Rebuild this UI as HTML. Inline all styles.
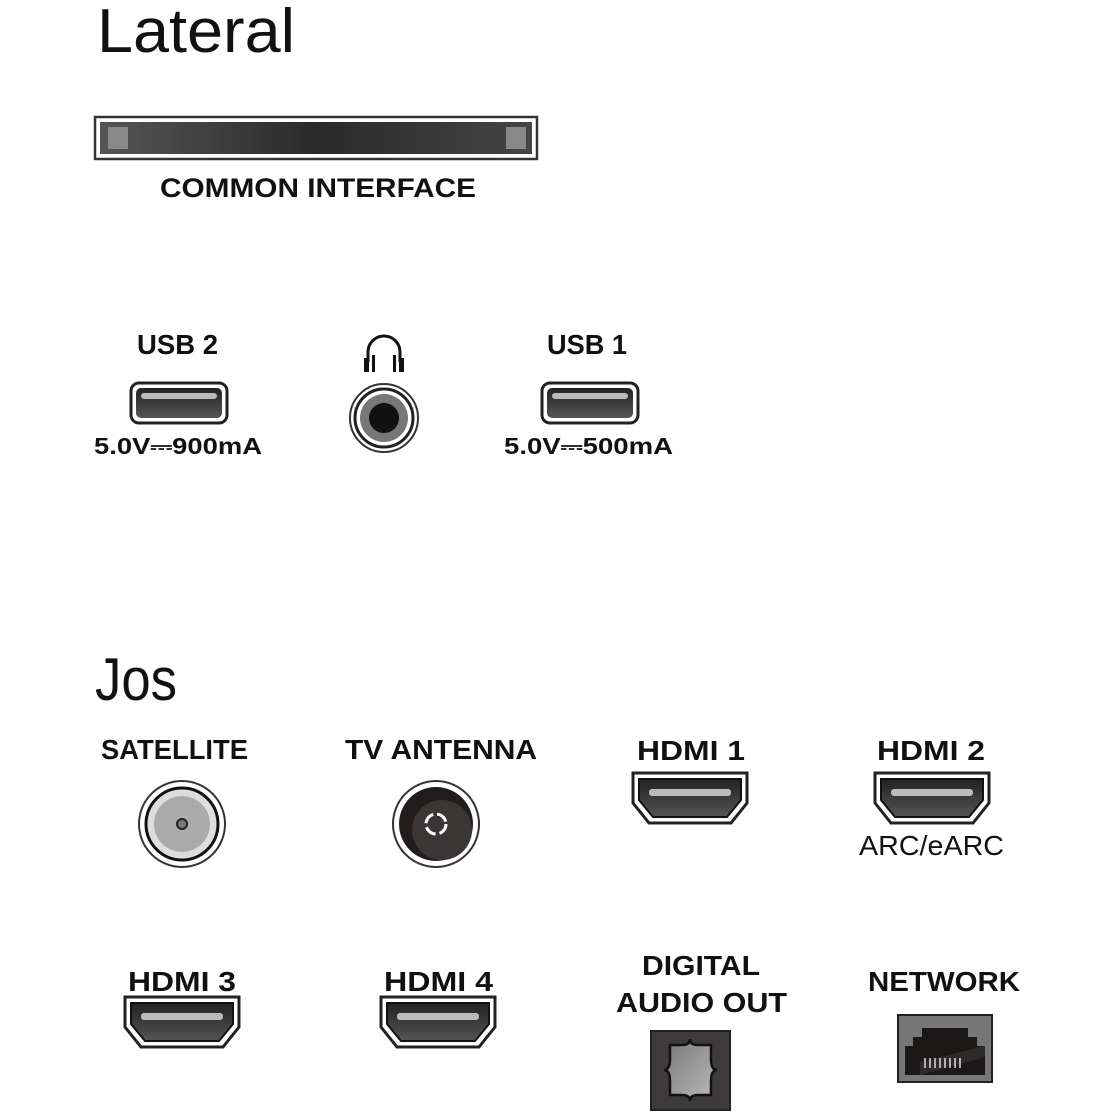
<!DOCTYPE html>
<html><head><meta charset="utf-8"><style>
body{margin:0;background:#fff;}
svg{display:block;}
text{font-family:"Liberation Sans",sans-serif;fill:#111;}
.b{font-weight:bold;}
</style></head><body>
<svg width="1115" height="1115" viewBox="0 0 1115 1115">
<defs>
<linearGradient id="slot" x1="0" y1="0" x2="1" y2="0"><stop offset="0" stop-color="#555"/><stop offset="0.5" stop-color="#2a2a2a"/><stop offset="1" stop-color="#444"/></linearGradient>
<linearGradient id="usb" x1="0" y1="0" x2="0" y2="1"><stop offset="0" stop-color="#222"/><stop offset="1" stop-color="#555"/></linearGradient>
<linearGradient id="opt" x1="0" y1="0" x2="1" y2="1"><stop offset="0" stop-color="#777"/><stop offset="1" stop-color="#bbb"/></linearGradient>
<g id="hdmi">
<path d="M0,0 H114 V30 L98,50 H16 L0,30 Z" fill="#fff" stroke="#222" stroke-width="3"/>
<path d="M6,6 H108 V27 L94,44 H20 L6,27 Z" fill="url(#usb)" stroke="#111" stroke-width="2"/>
<rect x="16" y="16" width="82" height="7" rx="3" fill="#bbb"/>
</g>
<g id="usbp">
<rect x="0" y="0" width="96" height="40" rx="8" fill="#fff" stroke="#222" stroke-width="3"/>
<rect x="5" y="5" width="86" height="30" rx="5" fill="url(#usb)"/>
<rect x="10" y="10" width="76" height="6" rx="3" fill="#bbb"/>
</g>
</defs>

<text x="97" y="52" font-size="62" textLength="198" lengthAdjust="spacingAndGlyphs">Lateral</text>
<rect x="95" y="117" width="442" height="42" fill="#fff" stroke="#333" stroke-width="2.5"/>
<rect x="100" y="122" width="432" height="32" fill="url(#slot)"/>
<rect x="108" y="127" width="20" height="22" fill="#888"/>
<rect x="506" y="127" width="20" height="22" fill="#888"/>
<text x="160" y="197" font-size="27" class="b" textLength="316" lengthAdjust="spacingAndGlyphs">COMMON INTERFACE</text>

<text x="137" y="354" font-size="28" class="b" textLength="81" lengthAdjust="spacingAndGlyphs">USB 2</text>
<use href="#usbp" x="131" y="383"/>
<text x="94" y="454" font-size="23" class="b" textLength="168" lengthAdjust="spacingAndGlyphs">5.0V⎓900mA</text>

<path d="M368,362 V352 A16,16 0 0 1 400,352 V362" fill="none" stroke="#111" stroke-width="3"/>
<rect x="364" y="358" width="5" height="14" fill="#111"/><rect x="372" y="355" width="3" height="17" fill="#111"/>
<rect x="399" y="358" width="5" height="14" fill="#111"/><rect x="393" y="355" width="3" height="17" fill="#111"/>
<circle cx="384" cy="418" r="34" fill="#fff" stroke="#333" stroke-width="2"/>
<circle cx="384" cy="418" r="29" fill="#fff" stroke="#222" stroke-width="3"/>
<circle cx="384" cy="418" r="24" fill="#777"/>
<circle cx="384" cy="418" r="15" fill="#111"/>

<text x="547" y="354" font-size="28" class="b" textLength="80" lengthAdjust="spacingAndGlyphs">USB 1</text>
<use href="#usbp" x="542" y="383"/>
<text x="504" y="454" font-size="23" class="b" textLength="169" lengthAdjust="spacingAndGlyphs">5.0V⎓500mA</text>

<text x="95" y="700" font-size="60" textLength="82" lengthAdjust="spacingAndGlyphs">Jos</text>

<text x="101" y="759" font-size="28" class="b" textLength="147" lengthAdjust="spacingAndGlyphs">SATELLITE</text>
<circle cx="182" cy="824" r="43" fill="#fff" stroke="#333" stroke-width="2"/>
<circle cx="182" cy="824" r="36" fill="#ddd" stroke="#111" stroke-width="3"/>
<circle cx="182" cy="824" r="28" fill="#aaa"/>
<circle cx="182" cy="824" r="5" fill="#777" stroke="#222" stroke-width="2"/>

<text x="345" y="759" font-size="28" class="b" textLength="192" lengthAdjust="spacingAndGlyphs">TV ANTENNA</text>
<circle cx="436" cy="824" r="43" fill="#fff" stroke="#333" stroke-width="2"/>
<circle cx="436" cy="824" r="37" fill="#221c1c"/>
<circle cx="442" cy="830" r="30" fill="#3a3636"/>
<circle cx="436" cy="824" r="10" fill="none" stroke="#fff" stroke-width="3" stroke-dasharray="12 4"/>

<text x="637" y="760" font-size="28" class="b" textLength="108" lengthAdjust="spacingAndGlyphs">HDMI 1</text>
<use href="#hdmi" x="633" y="773"/>
<text x="877" y="760" font-size="28" class="b" textLength="108" lengthAdjust="spacingAndGlyphs">HDMI 2</text>
<use href="#hdmi" x="875" y="773"/>
<text x="859" y="855" font-size="28" fill="#333" textLength="145" lengthAdjust="spacingAndGlyphs">ARC/eARC</text>

<text x="128" y="991" font-size="28" class="b" textLength="108" lengthAdjust="spacingAndGlyphs">HDMI 3</text>
<use href="#hdmi" x="125" y="997"/>
<text x="384" y="991" font-size="28" class="b" textLength="109" lengthAdjust="spacingAndGlyphs">HDMI 4</text>
<use href="#hdmi" x="381" y="997"/>

<text x="642" y="975" font-size="28" class="b" textLength="118" lengthAdjust="spacingAndGlyphs">DIGITAL</text>
<text x="616" y="1012" font-size="28" class="b" textLength="171" lengthAdjust="spacingAndGlyphs">AUDIO OUT</text>
<rect x="651" y="1031" width="79" height="79" fill="#3e3a3a" stroke="#222" stroke-width="2"/>
<path d="M670,1045 H682 Q690,1045 690,1039 Q690,1045 698,1045 H711 V1059 Q711,1070 717,1070 Q711,1070 711,1081 V1095 H698 Q690,1095 690,1101 Q690,1095 682,1095 H670 V1081 Q670,1070 664,1070 Q670,1070 670,1059 Z" fill="url(#opt)" stroke="#111" stroke-width="2.5"/>

<text x="868" y="991" font-size="28" class="b" textLength="152" lengthAdjust="spacingAndGlyphs">NETWORK</text>
<rect x="898" y="1015" width="94" height="67" fill="#777" stroke="#222" stroke-width="2"/>
<path d="M905,1075 V1046 H913 V1037 H922 V1028 H968 V1037 H977 V1046 H985 V1075 Z" fill="#1c1818"/>
<path d="M920,1062 L985,1046 V1057 L920,1075 Z" fill="#2e2a2a"/>
<g stroke="#ddd" stroke-width="1.5">
<line x1="925" y1="1058" x2="925" y2="1068"/><line x1="930" y1="1058" x2="930" y2="1068"/><line x1="935" y1="1058" x2="935" y2="1068"/><line x1="940" y1="1058" x2="940" y2="1068"/><line x1="945" y1="1058" x2="945" y2="1068"/><line x1="950" y1="1058" x2="950" y2="1068"/><line x1="955" y1="1058" x2="955" y2="1068"/><line x1="960" y1="1058" x2="960" y2="1068"/>
</g>
</svg>
</body></html>
